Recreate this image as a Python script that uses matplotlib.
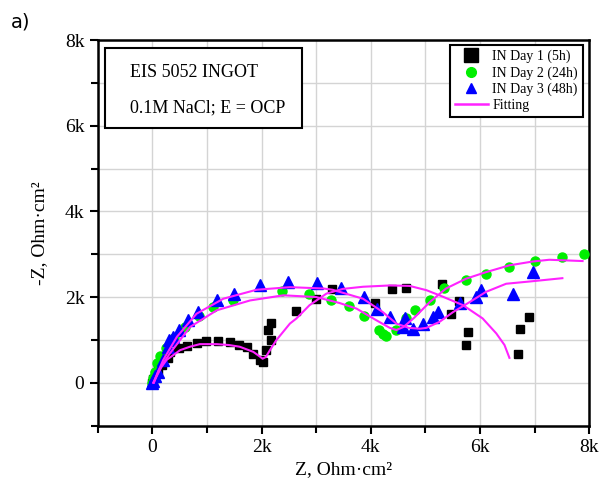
import matplotlib
matplotlib.use('Agg')
import matplotlib.pyplot as plt
from matplotlib.patches import Rectangle
from matplotlib.lines import Line2D
from matplotlib.ticker import MultipleLocator, FuncFormatter

plt.rcParams['font.family'] = ['Liberation Serif', 'DejaVu Serif']

# Day 1 (5h) - Z' and -Z'' in kOhm*cm2
day1_x = [0.0, 0.02, 0.05, 0.10, 0.17, 0.29, 0.32, 0.48, 0.63, 0.81, 0.99, 1.20, 1.42, 1.58,
          1.73, 1.85, 1.97, 2.03, 2.09, 2.18, 2.12, 2.18, 2.64, 2.99, 3.30, 4.07, 4.39, 4.64,
          5.31, 5.61, 5.47, 5.78, 5.75, 6.90, 6.73, 6.70]
day1_y = [0.0, 0.08, 0.18, 0.30, 0.41, 0.57, 0.72, 0.80, 0.86, 0.93, 0.98, 0.98, 0.94, 0.88,
          0.84, 0.68, 0.53, 0.49, 0.76, 0.99, 1.23, 1.40, 1.67, 1.95, 2.19, 1.86, 2.18, 2.21,
          2.31, 1.90, 1.61, 1.19, 0.88, 1.53, 1.26, 0.66]

# Day 2 (24h)
day2_x = [0.0, 0.02, 0.05, 0.08, 0.15, 0.25, 0.40, 0.60, 0.85, 1.11, 1.48, 2.38, 2.87, 3.28,
          3.60, 3.87, 4.16, 4.22, 4.28, 4.47, 4.64, 4.82, 5.08, 5.35, 5.75, 6.11, 6.53, 7.00,
          7.50, 7.91]
day2_y = [0.0, 0.10, 0.25, 0.45, 0.62, 0.82, 1.05, 1.30, 1.55, 1.77, 1.92, 2.14, 2.08, 1.94,
          1.79, 1.56, 1.23, 1.13, 1.08, 1.23, 1.50, 1.69, 1.92, 2.20, 2.39, 2.54, 2.71, 2.85,
          2.93, 3.01]

# Day 3 (48h)
day3_x = [0.0, 0.02, 0.05, 0.11, 0.20, 0.29, 0.31, 0.38, 0.48, 0.65, 0.83, 1.18, 1.50, 1.97,
          2.49, 3.02, 3.46, 3.87, 4.11, 4.35, 4.62, 4.59, 4.78, 4.95, 5.14, 5.23, 5.63, 5.92,
          6.02, 6.61, 6.97]
day3_y = [0.0, 0.05, 0.15, 0.26, 0.53, 0.84, 0.99, 1.07, 1.23, 1.46, 1.65, 1.92, 2.08, 2.27,
          2.35, 2.33, 2.21, 2.00, 1.71, 1.53, 1.50, 1.30, 1.26, 1.38, 1.53, 1.65, 1.85, 2.00,
          2.16, 2.08, 2.58]

# fitting curves
fit1_x = [0.02, 0.08, 0.17, 0.26, 0.38, 0.51, 0.69, 0.87, 1.18, 1.40, 1.60, 1.85, 1.96, 2.02,
          2.08, 2.15, 2.27, 2.52, 2.64, 2.88, 3.19, 3.49, 3.86, 4.35, 4.71, 5.02, 5.26, 5.69,
          6.05, 6.30, 6.45, 6.54]
fit1_y = [0.0, 0.15, 0.37, 0.53, 0.64, 0.76, 0.84, 0.90, 0.90, 0.88, 0.84, 0.72, 0.62, 0.56,
          0.60, 0.75, 0.99, 1.38, 1.50, 1.81, 2.08, 2.19, 2.24, 2.27, 2.26, 2.16, 2.04, 1.81,
          1.50, 1.15, 0.88, 0.58]
fit2_x = [0.03, 0.12, 0.32, 0.69, 1.18, 1.79, 2.40, 3.00, 3.43, 3.74, 4.10, 4.35, 4.47, 4.60,
          4.80, 5.08, 5.38, 5.75, 6.11, 6.54, 6.97, 7.27, 7.88]
fit2_y = [0.0, 0.30, 0.68, 1.30, 1.69, 1.92, 2.04, 2.00, 1.86, 1.73, 1.46, 1.28, 1.23, 1.30,
          1.52, 1.88, 2.20, 2.43, 2.58, 2.74, 2.83, 2.87, 2.84]
fit3_x = [0.02, 0.20, 0.45, 0.81, 1.30, 1.91, 2.52, 3.13, 3.30, 3.86, 4.22, 4.47, 4.70, 4.90,
          5.02, 5.26, 5.51, 5.81, 6.11, 6.48, 6.97, 7.51]
fit3_y = [0.0, 0.53, 1.07, 1.61, 1.96, 2.17, 2.23, 2.20, 2.17, 1.96, 1.65, 1.38, 1.28, 1.26,
          1.28, 1.42, 1.65, 1.88, 2.12, 2.31, 2.37, 2.44]

labels = ['IN Day 1 (5h)', 'IN Day 2 (24h)', 'IN Day 3 (48h)', 'Fitting']
fit_color = '#ff22ff'


def k(v):
    return [a * 1000 for a in v]


fig = plt.figure(figsize=(6.03, 4.88), dpi=100)
ax = fig.add_axes([0.162, 0.128, 0.815, 0.790])

ax.plot(k(day1_x), k(day1_y), 's', color='black', ms=6.3, zorder=3)
ax.plot(k(day2_x), k(day2_y), 'o', color='#00ee00', ms=6.5, zorder=3)
ax.plot(k(day3_x), k(day3_y), '^', color='#0000ff', ms=8, zorder=3)
for fx, fy in [(fit1_x, fit1_y), (fit2_x, fit2_y), (fit3_x, fit3_y)]:
    ax.plot(k(fx), k(fy), '-', color=fit_color, lw=1.5, zorder=4)

ax.set_xlim(-1000, 8000)
ax.set_ylim(-1000, 8000)
ax.xaxis.set_major_locator(MultipleLocator(2000))
ax.xaxis.set_minor_locator(MultipleLocator(1000))
ax.yaxis.set_major_locator(MultipleLocator(2000))
ax.yaxis.set_minor_locator(MultipleLocator(1000))
fmt = FuncFormatter(lambda v, p: '0' if v == 0 else f'{int(v / 1000)}k')
ax.xaxis.set_major_formatter(fmt)
ax.yaxis.set_major_formatter(fmt)
ax.grid(True, which='both', color='#d4d4d4', lw=1.0, zorder=0)
ax.set_axisbelow(True)
ax.tick_params(which='major', direction='out', length=6, width=1.5, labelsize=14)
ax.tick_params(which='minor', direction='out', length=5, width=1.5)
for s in ax.spines.values():
    s.set_linewidth(1.8)

ax.set_xlabel('Z, Ohm·cm²', fontsize=14, labelpad=4)
ax.set_ylabel('-Z, Ohm·cm²', fontsize=14, labelpad=12)

# info box
ax.add_patch(Rectangle((0.015, 0.772), 0.40, 0.207, transform=ax.transAxes,
                       facecolor='white', edgecolor='black', lw=1.5, zorder=5))
ax.text(0.066, 0.916, 'EIS 5052 INGOT', transform=ax.transAxes, fontsize=13,
        va='center', ha='left', zorder=6)
ax.text(0.066, 0.824, '0.1M NaCl; E = OCP', transform=ax.transAxes, fontsize=13,
        va='center', ha='left', zorder=6)

handles = [
    Line2D([], [], ls='none', marker='s', color='black', ms=10),
    Line2D([], [], ls='none', marker='o', color='#00ee00', ms=7),
    Line2D([], [], ls='none', marker='^', color='#0000ff', ms=7.5),
    Line2D([], [], color=fit_color, lw=1.8),
]
leg = ax.legend(handles, labels, loc='upper right', bbox_to_anchor=(0.987, 0.987),
                borderaxespad=0, fontsize=10, fancybox=False, framealpha=1,
                edgecolor='black', handlelength=2.4, labelspacing=0.2,
                borderpad=0.35, handletextpad=0.3)
leg.get_frame().set_linewidth(1.5)

fig.text(0.018, 0.955, 'a)', fontsize=14, family='DejaVu Sans', va='center')

fig.savefig('out.png', dpi=100)
